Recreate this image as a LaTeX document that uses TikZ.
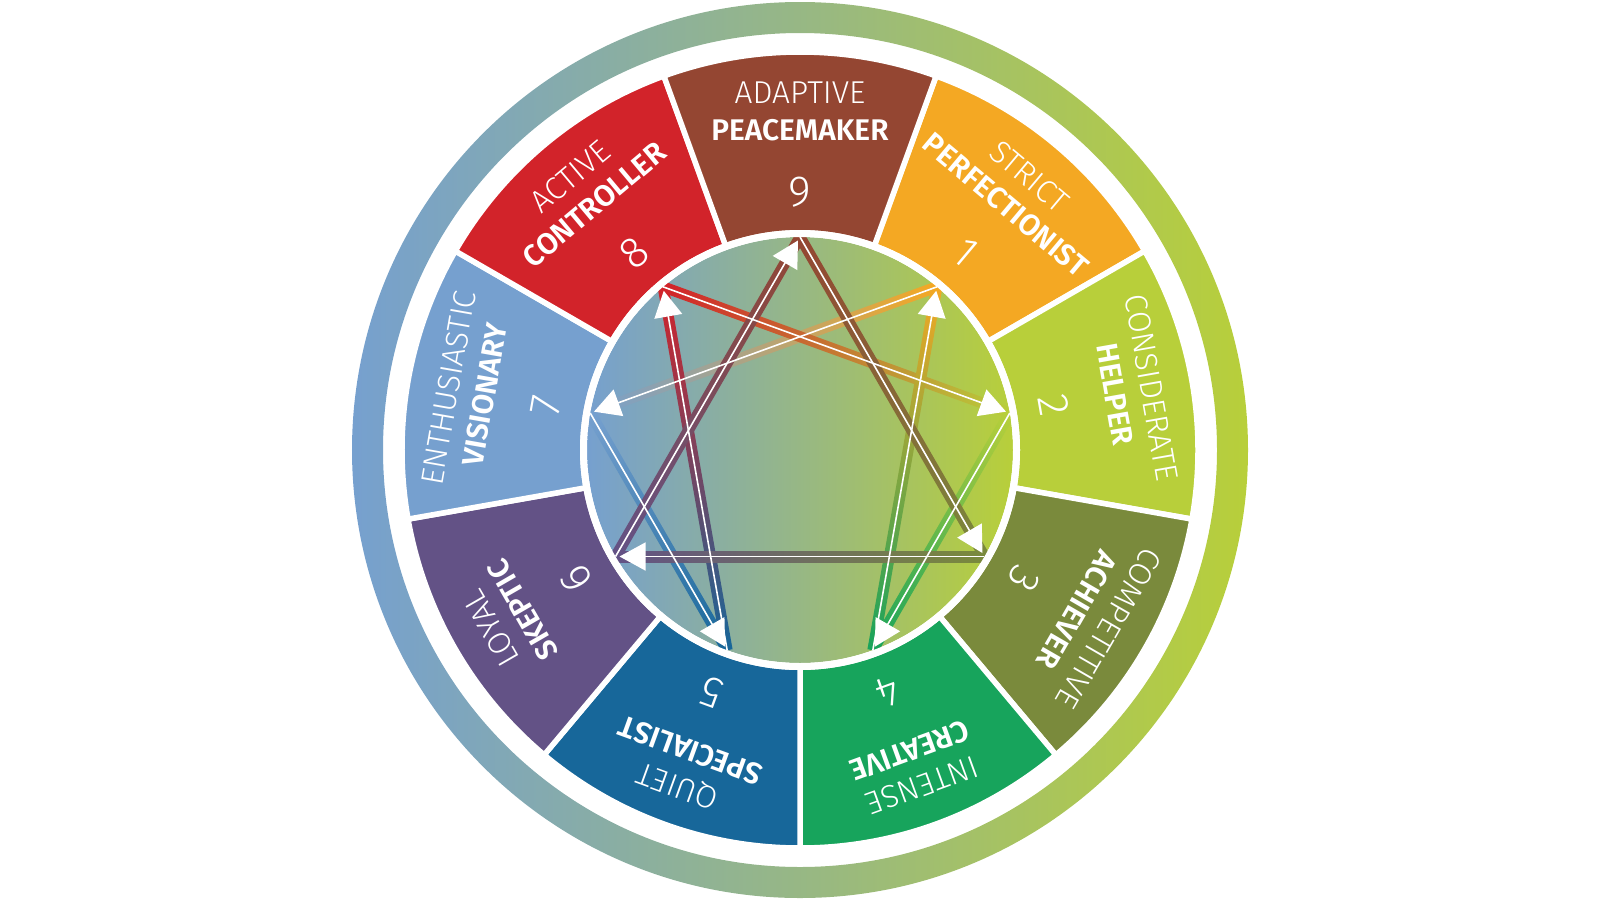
\documentclass[tikz,border=0pt]{standalone}
\usepackage{fontspec}
\setmainfont{Fira Sans}[UprightFont={* Light},BoldFont={* SemiBold}]
\definecolor{type1}{RGB}{244,168,35}
\definecolor{type2}{RGB}{184,207,58}
\definecolor{type3}{RGB}{122,138,60}
\definecolor{type4}{RGB}{23,164,92}
\definecolor{type5}{RGB}{23,103,154}
\definecolor{type6}{RGB}{99,82,134}
\definecolor{type7}{RGB}{118,160,207}
\definecolor{type8}{RGB}{210,35,42}
\definecolor{type9}{RGB}{148,70,50}
\definecolor{mymid}{RGB}{140,175,160}
\usetikzlibrary{arrows.meta,calc}

\begin{document}
\begin{tikzpicture}[
    every node/.style={text=white,inner sep=0pt},
    adjnode/.style={font=\fontsize{9}{10}\selectfont},
    nounnode/.style={font=\fontsize{8.5}{10}\selectfont\bfseries},
    numnode/.style={font=\fontsize{12.4}{14}\selectfont},
    ringshade/.style={left color=type7,middle color=mymid,right color=type2},
    arrowline/.style={white,line width=0.16mm,shorten >=0.4mm,-{Triangle[length=2.6mm,width=2.8mm]}}
    ]
    \useasboundingbox (-8,-4.5) rectangle (8,4.5);

    % the outer ring
    \shade[ringshade,even odd rule] (0,0) circle (4.48) circle (4.17);

    % the nine types
    \foreach \n/\adj/\noun in {1/STRICT/PERFECTIONIST,2/CONSIDERATE/HELPER,3/COMPETITIVE/ACHIEVER,
        4/INTENSE/CREATIVE,5/QUIET/SPECIALIST,6/LOYAL/SKEPTIC,7/ENTHUSIASTIC/VISIONARY,
        8/ACTIVE/CONTROLLER,9/ADAPTIVE/PEACEMAKER} {
        \pgfmathsetmacro{\ang}{90-40*\n}
        \pgfmathsetmacro{\rot}{\ang-90}
        \filldraw[fill=type\n,draw=white,line width=0.55mm] (0,0) -- ({\ang-20}:3.98)
            arc[start angle=\ang-20,end angle=\ang+20,radius=3.98] -- cycle;
        \node[adjnode,rotate=\rot] (adj\n) at (\ang:3.57) {\adj};
        \node[nounnode,rotate=\rot] (noun\n) at (\ang:3.2) {\noun};
        \node[numnode,rotate=\rot] (num\n) at (\ang:2.58) {\n};
    }

    % the inner circle
    \fill[white] (0,0) circle (2.2);
    \shade[ringshade] (0,0) circle (2.13);
    \foreach \n in {1,...,9}
        \coordinate (p\n) at ({90-40*\n}:2.13);

    % the coloured bands
    \foreach \s/\t in {1/7,7/5,5/8,8/2,2/4,4/1,9/3,3/6,6/9} {
        \pgfmathsetmacro{\ang}{90-40*\s}
        \pgfmathsetmacro{\dang}{mod(40*\s-40*\t+720,360)}
        \pgfmathsetmacro{\dir}{\ang+\dang/2+90}
        \pgfmathsetmacro{\len}{2*2.13*sin(\dang/2)}
        \begin{scope}[transform canvas={shift={(p\s)},rotate=\dir}]
            \shade[left color=type\s,right color=type\t] (0,-0.055) rectangle (\len,0.055);
        \end{scope}
    }
    \draw[white,line width=0.7mm] (0,0) circle (2.165);

    % the arrows
    \foreach \s/\t in {1/7,7/5,5/8,8/2,2/4,4/1,9/3,3/6,6/9}
        \draw[arrowline] (p\s) -- (p\t);

\end{tikzpicture}
\end{document}
